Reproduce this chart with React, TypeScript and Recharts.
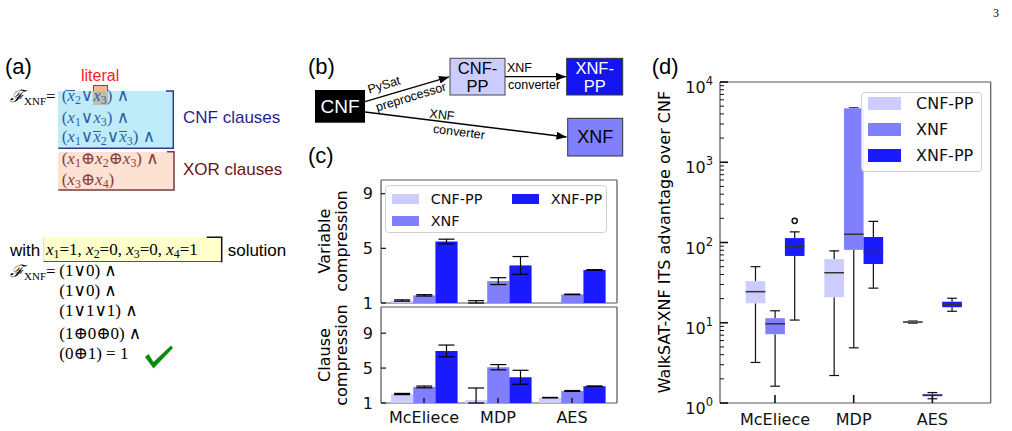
import React from 'react';
import { BarChart, Bar, XAxis, YAxis, ErrorBar, Legend, CartesianGrid } from 'recharts';

const mpl = "'DejaVu Sans', sans-serif";
const ppt = "'Liberation Sans', Arial, sans-serif";
const mathF = "'Liberation Serif', 'DejaVu Serif', serif";

// ---------------- data ----------------
const categories = ['McEliece', 'MDP', 'AES'];
const seriesNames = ['CNF-PP', 'XNF', 'XNF-PP'];
const seriesKeys = ['cnfpp', 'xnf', 'xnfpp'];
const seriesColors = ['#ccccff', '#8080ff', '#1a1aff'];

// (c) variable compression  (value, [err low, err high])
const varCnfPP = [1.18, 1.02, 1.0];
const varCnfPPErr = [[0.05, 0.05], [0.02, 0.15], [0.0, 0.01]];
const varXnf = [1.56, 2.6, 1.63];
const varXnfErr = [[0.05, 0.05], [0.25, 0.25], [0.02, 0.02]];
const varXnfPP = [5.5, 3.75, 3.42];
const varXnfPPErr = [[0.17, 0.17], [0.65, 0.65], [0.02, 0.02]];

// (c) clause compression
const clauseCnfPP = [2.03, 1.32, 1.61];
const clauseCnfPPErr = [[0.07, 0.07], [0.32, 1.4], [0.03, 0.03]];
const clauseXnf = [2.84, 5.1, 2.38];
const clauseXnfErr = [[0.1, 0.1], [0.3, 0.3], [0.05, 0.05]];
const clauseXnfPP = [6.97, 3.95, 2.92];
const clauseXnfPPErr = [[0.67, 0.67], [0.8, 0.8], [0.03, 0.03]];

const compressionTicks = [1, 5, 9];
const varDomain = [1, 10];
const clauseDomain = [1, 12];

// (d) box stats: [whisker low, q1, median, q3, whisker high]
const boxCnfPP = [[3.2, 17.5, 24.4, 33, 50], [2.2, 20.8, 42, 62, 78.7], [9.9, 10.0, 10.2, 10.4, 10.5]];
const boxXnf = [[1.62, 7.2, 9.7, 11.4, 14.1], [4.87, 81, 127, 4700, 4780], [1.13, 1.21, 1.25, 1.3, 1.35]];
const boxXnfPP = [[10.8, 68, 89, 113.5, 136], [27, 54, 77, 117, 183], [13.9, 15.6, 17, 18.3, 20.2]];
const outCnfPP = [[], [], []];
const outXnf = [[], [], []];
const outXnfPP = [[186], [], []];
const itsDomain = [1, 10000];
const itsTicks = [
  1, 2, 3, 4, 5, 6, 7, 8, 9,
  10, 20, 30, 40, 50, 60, 70, 80, 90,
  100, 200, 300, 400, 500, 600, 700, 800, 900,
  1000, 2000, 3000, 4000, 5000, 6000, 7000, 8000, 9000,
  10000,
];

const varData = categories.map((cat, i) => ({
  cat,
  cnfpp: varCnfPP[i], cnfppErr: varCnfPPErr[i],
  xnf: varXnf[i], xnfErr: varXnfErr[i],
  xnfpp: varXnfPP[i], xnfppErr: varXnfPPErr[i],
}));
const clauseData = categories.map((cat, i) => ({
  cat,
  cnfpp: clauseCnfPP[i], cnfppErr: clauseCnfPPErr[i],
  xnf: clauseXnf[i], xnfErr: clauseXnfErr[i],
  xnfpp: clauseXnfPP[i], xnfppErr: clauseXnfPPErr[i],
}));
const boxData = categories.map((cat, i) => ({
  cat,
  cnfpp: { stats: boxCnfPP[i], out: outCnfPP[i] },
  xnf: { stats: boxXnf[i], out: outXnf[i] },
  xnfpp: { stats: boxXnfPP[i], out: outXnfPP[i] },
}));

// ---------------- helpers ----------------
const frameH = ({ offset }: any) => [offset.top, offset.top + offset.height];
const frameV = ({ offset }: any) => [offset.left, offset.left + offset.width];

const CompYTick = (p: any) => {
  const ax = p.x + 8;
  return (
    <g>
      <line x1={ax} x2={ax + 5} y1={p.y} y2={p.y} stroke="#111" strokeWidth={1.2} />
      <text x={p.x} y={p.y} dy="0.36em" textAnchor="end" fontSize={16} fontFamily={mpl} fill="#111">
        {p.payload.value}
      </text>
    </g>
  );
};
const CatTickCNoLabel = (p: any) => (
  <line x1={p.x} x2={p.x} y1={p.y} y2={p.y - 5} stroke="#111" strokeWidth={1.4} />
);
const CatTickC = (p: any) => (
  <g>
    <line x1={p.x} x2={p.x} y1={p.y} y2={p.y - 5} stroke="#111" strokeWidth={1.4} />
    <text x={p.x} y={p.y + 20} textAnchor="middle" fontSize={16} fontFamily={mpl} fill="#111">
      {p.payload.value}
    </text>
  </g>
);
const CatTickD = (p: any) => (
  <g>
    <line x1={p.x} x2={p.x} y1={p.y} y2={p.y - 8} stroke="#111" strokeWidth={1.6} />
    <text x={p.x} y={p.y + 22} textAnchor="middle" fontSize={16} fontFamily={mpl} fill="#111">
      {p.payload.value}
    </text>
  </g>
);
const LogTick = (p: any) => {
  const v = p.payload.value;
  const e = Math.round(Math.log10(v));
  const major = Math.abs(Math.pow(10, e) - v) < 1e-9;
  const ax = p.x + 7;
  if (!major) return <line x1={ax} x2={ax + 4} y1={p.y} y2={p.y} stroke="#111" strokeWidth={1} />;
  return (
    <g>
      <line x1={ax} x2={ax + 8} y1={p.y} y2={p.y} stroke="#111" strokeWidth={1.6} />
      <text x={p.x} y={p.y + 11} textAnchor="end" fontSize={16} fontFamily={mpl} fill="#111">
        10<tspan dy={-8} fontSize={11.5}>{e}</tspan>
      </text>
    </g>
  );
};

const CompLegend = (props: any) => {
  const items = props.payload || [];
  const slots = [{ l: 6.7, t: 13 }, { l: 6.7, t: 35 }, { l: 126.7, t: 13 }];
  return (
    <div style={{ position: 'relative', width: 222, height: 48, boxSizing: 'border-box', border: '1px solid #d0d0d0', borderRadius: 4, background: 'rgba(255,255,255,0.85)', fontFamily: mpl, fontSize: 14.4, color: '#111' }}>
      {items.map((it: any, i: number) => (
        <div key={i} style={{ position: 'absolute', left: slots[i].l - 1, top: slots[i].t - 9, height: 18, display: 'flex', alignItems: 'center', whiteSpace: 'nowrap' }}>
          <span style={{ display: 'inline-block', width: 27, height: 10, background: it.color }} />
          <span style={{ marginLeft: 12 }}>{it.value}</span>
        </div>
      ))}
    </div>
  );
};
const BoxLegend = (props: any) => {
  const items = props.payload || [];
  return (
    <div style={{ position: 'relative', width: 121.3, height: 80, boxSizing: 'border-box', border: '1px solid #d0d0d0', borderRadius: 4, background: 'rgba(255,255,255,0.85)', fontFamily: mpl, fontSize: 16, color: '#111' }}>
      {items.map((it: any, i: number) => (
        <div key={i} style={{ position: 'absolute', left: 6.3, top: 12.3 + 26 * i - 1 - 10, height: 20, display: 'flex', alignItems: 'center', whiteSpace: 'nowrap' }}>
          <span style={{ display: 'inline-block', width: 33, height: 13, background: it.color }} />
          <span style={{ marginLeft: 14.7 }}>{it.value}</span>
        </div>
      ))}
    </div>
  );
};

function makeBoxShape(key: string, color: string) {
  return (p: any) => {
    const s = p.payload && p.payload[key];
    if (!s) return null;
    const [wlo, q1, med, q3, whi] = s.stats;
    const { x, y, width, height } = p;
    const L = Math.log10;
    const span = L(whi) - L(wlo);
    const py = (v: number) => (span === 0 ? y : y + (height * (L(whi) - L(v))) / span);
    const cx = x + width / 2;
    const ch = width / 4;
    return (
      <g>
        <line x1={cx} x2={cx} y1={py(whi)} y2={py(q3)} stroke="#111" strokeWidth={1.2} />
        <line x1={cx} x2={cx} y1={py(q1)} y2={py(wlo)} stroke="#111" strokeWidth={1.2} />
        <line x1={cx - ch} x2={cx + ch} y1={py(whi)} y2={py(whi)} stroke="#111" strokeWidth={1.2} />
        <line x1={cx - ch} x2={cx + ch} y1={py(wlo)} y2={py(wlo)} stroke="#111" strokeWidth={1.2} />
        <rect x={x} y={py(q3)} width={width} height={Math.max(py(q1) - py(q3), 0.5)} fill={color} />
        <line x1={x} x2={x + width} y1={py(med)} y2={py(med)} stroke="#333" strokeWidth={1.5} />
        {s.out.map((o: number, i: number) => (
          <circle key={i} cx={cx} cy={py(o)} r={2.6} fill="none" stroke="#111" strokeWidth={1.5} />
        ))}
      </g>
    );
  };
}

function CompressionChart({ data, domain, top, height, marginTop, marginBottom, withLabels, withLegend }: any) {
  return (
    <div style={{ position: 'absolute', left: 300, top }}>
      <BarChart width={330} height={height} data={data} barGap={0}
        margin={{ top: marginTop, right: 13, bottom: marginBottom, left: 41 }}>
        <CartesianGrid stroke="#555" strokeWidth={1.2} horizontalCoordinatesGenerator={frameH} verticalCoordinatesGenerator={frameV} />
        <XAxis dataKey="cat" type="category" padding={{ left: 6, right: 8 }} height={withLabels ? 28 : 0}
          tickSize={0} tickMargin={0} tickLine={false} axisLine={false} interval={0}
          tick={withLabels ? <CatTickC /> : <CatTickCNoLabel />} />
        <YAxis type="number" domain={domain} ticks={compressionTicks} interval={0} width={40}
          tickSize={0} tickMargin={8} tickLine={false} axisLine={false} tick={<CompYTick />} allowDataOverflow />
        {seriesKeys.map((k, i) => (
          <Bar key={k} dataKey={k} name={seriesNames[i]} fill={seriesColors[i]} barSize={22.2} isAnimationActive={false}>
            <ErrorBar dataKey={k + 'Err'} width={8} stroke="#000" strokeWidth={1.2} isAnimationActive={false} />
          </Bar>
        ))}
        {withLegend && (
          <Legend layout="vertical" align="center" verticalAlign="middle" content={<CompLegend />}
            wrapperStyle={{ left: 85, top: 15, width: 222, height: 48 }} />
        )}
      </BarChart>
    </div>
  );
}

function BoxChart() {
  return (
    <div style={{ position: 'absolute', left: 640, top: 70 }}>
      <BarChart width={372} height={361} data={boxData} barGap={0}
        margin={{ top: 12, right: 21.3, bottom: 0, left: 30 }}>
        <CartesianGrid stroke="#555" strokeWidth={1.2} horizontalCoordinatesGenerator={frameH} verticalCoordinatesGenerator={frameV} />
        <XAxis dataKey="cat" type="category" padding={{ left: 15.7, right: 19 }} height={28}
          tickSize={0} tickMargin={0} tickLine={false} axisLine={false} interval={0} tick={<CatTickD />} />
        <YAxis type="number" scale="log" domain={itsDomain} ticks={itsTicks} interval={0} width={50}
          tickSize={0} tickMargin={7} tickLine={false} axisLine={false} tick={<LogTick />} allowDataOverflow />
        {seriesKeys.map((k, i) => (
          <Bar key={k} dataKey={(d: any) => [d[k].stats[0], d[k].stats[4]]} name={seriesNames[i]}
            fill={seriesColors[i]} barSize={19.6} shape={makeBoxShape(k, seriesColors[i])} isAnimationActive={false} />
        ))}
        <Legend layout="vertical" align="center" verticalAlign="middle" content={<BoxLegend />}
          wrapperStyle={{ left: 221, top: 21.7, width: 121.3, height: 80 }} />
      </BarChart>
    </div>
  );
}

// ---------------- panel (a) text helpers ----------------
const Txt = ({ x, base, size, color = '#000', font = ppt, children }: any) => (
  <div style={{ position: 'absolute', left: x, top: base - 0.915 * size, fontSize: size, lineHeight: `${1.15 * size}px`, height: 1.15 * size, color, fontFamily: font, whiteSpace: 'nowrap' }}>
    {children}
  </div>
);
const V = ({ n, bar }: any) => (
  <span>
    {bar ? (
      <span style={{ display: 'inline-block', fontStyle: 'italic', borderTop: '1px solid currentColor', lineHeight: '0.58em' }}>x</span>
    ) : (
      <span style={{ fontStyle: 'italic' }}>x</span>
    )}
    <span style={{ fontSize: '0.7em', position: 'relative', top: '0.22em' }}>{n}</span>
  </span>
);
const FX = () => (
  <span>
    <span style={{ fontStyle: 'italic' }}>ℱ</span>
    <span style={{ fontSize: 11, position: 'relative', top: 3 }}>XNF</span>=
  </span>
);
const Box = ({ l, t, w, h, bg, style }: any) => (
  <div style={{ position: 'absolute', left: l, top: t, width: w, height: h, background: bg, ...style }} />
);

function PanelA() {
  const blue = '#2f5ea8';
  const brown = '#8b3b3b';
  const ms = 17;
  return (
    <>
      <Box l={58.3} t={90.7} w={115} h={57.6} bg="#c0ecfa" />
      <Box l={58.3} t={151.7} w={115.7} h={38.3} bg="#fde2d4" />
      <Box l={93.3} t={85} w={15} h={5.7} bg="#f5b895" style={{ border: '1px solid #e02020', borderBottom: 'none', boxSizing: 'border-box' }} />
      <Box l={93.3} t={90.7} w={15} h={14.3} bg="#bcbfae" />
      <Box l={43.3} t={237.3} w={178.4} h={25} bg="#ffffcc" style={{ borderLeft: '1px solid #ddd', borderBottom: '1.5px solid #555', boxSizing: 'border-box' }} />
      <Txt x={5} base={74} size={22}>(a)</Txt>
      <Txt x={81} base={81.7} size={16} color="#ff1a1a">literal</Txt>
      <Txt x={10} base={103} size={ms} font={mathF}><FX /></Txt>
      <Txt x={61.7} base={102} size={ms} font={mathF} color={blue}>(<V n="2" bar />∨<V n="3" />) ∧</Txt>
      <Txt x={61.7} base={124} size={ms} font={mathF} color={blue}>(<V n="1" />∨<V n="3" />) ∧</Txt>
      <Txt x={61.7} base={143} size={ms} font={mathF} color={blue}>(<V n="1" />∨<V n="2" bar />∨<V n="3" bar />) ∧</Txt>
      <Txt x={61.7} base={165} size={ms} font={mathF} color={brown}>(<V n="1" />⊕<V n="2" />⊕<V n="3" />) ∧</Txt>
      <Txt x={61.7} base={186} size={ms} font={mathF} color={brown}>(<V n="3" />⊕<V n="4" />)</Txt>
      <Txt x={183} base={124} size={17} color="#1f1f8f">CNF clauses</Txt>
      <Txt x={183} base={176} size={17} color="#6b1414">XOR clauses</Txt>
      <Txt x={10} base={256.7} size={17}>with</Txt>
      <Txt x={46} base={256} size={ms} font={mathF}><V n="1" />=1, <V n="2" />=0, <V n="3" />=0, <V n="4" />=1</Txt>
      <Txt x={227.7} base={256.7} size={17}>solution</Txt>
      <Txt x={10} base={277.5} size={ms} font={mathF}><FX /></Txt>
      <Txt x={59.3} base={277} size={ms} font={mathF}>(1∨0) ∧</Txt>
      <Txt x={59.3} base={297} size={ms} font={mathF}>(1∨0) ∧</Txt>
      <Txt x={59.3} base={317} size={ms} font={mathF}>(1∨1∨1) ∧</Txt>
      <Txt x={59.3} base={339.5} size={ms} font={mathF}>(1⊕0⊕0) ∧</Txt>
      <Txt x={59.3} base={360} size={ms} font={mathF}>(0⊕1) = 1</Txt>
    </>
  );
}

function Overlay() {
  const lab = { fontFamily: ppt, fontSize: 12.5, fill: '#000' } as any;
  const boxTxt = { fontFamily: ppt, fontSize: 16.5, textAnchor: 'middle', dominantBaseline: 'central' } as any;
  return (
    <svg width={1012} height={431} style={{ position: 'absolute', left: 0, top: 0, pointerEvents: 'none' }}>
      <defs>
        <marker id="ah" markerUnits="userSpaceOnUse" markerWidth={10} markerHeight={8} viewBox="0 0 10 8" refX={10} refY={4} orient="auto">
          <path d="M0,0 L10,4 L0,8 z" fill="#000" />
        </marker>
      </defs>
      {/* (a) brackets */}
      <polyline points="166,91 173.3,91 173.3,148.3 58.3,148.3" fill="none" stroke="#2e3a87" strokeWidth={1.5} />
      <polyline points="167,151.7 174,151.7 174,190 58.3,190" fill="none" stroke="#7a3b3b" strokeWidth={1.5} />
      <polyline points="206.7,237.3 221.7,237.3 221.7,262.3" fill="none" stroke="#111" strokeWidth={1.5} />
      {/* check mark */}
      <polygon points="145,357 148.5,354 153.5,362 171,345.5 173,348 153.5,368.5" fill="#0d8a0d" />
      {/* (b) */}
      <text x={308} y={74} fontFamily={ppt} fontSize={22}>(b)</text>
      <rect x={315} y={90} width={50} height={32.7} fill="#000" />
      <text x={340} y={106.5} {...boxTxt} fontSize={19} fill="#fff">CNF</text>
      <rect x={450} y={58.3} width={55} height={36.7} fill="#ccccff" stroke="#444" strokeWidth={1} />
      <text x={477.5} y={67.5} {...boxTxt} fill="#000">CNF-</text>
      <text x={477.5} y={86} {...boxTxt} fill="#000">PP</text>
      <rect x={566.7} y={58.3} width={56} height={36.7} fill="#1414f0" stroke="#333" strokeWidth={1} />
      <text x={594.7} y={67.5} {...boxTxt} fill="#fff">XNF-</text>
      <text x={594.7} y={86} {...boxTxt} fill="#fff">PP</text>
      <rect x={567.7} y={118.3} width={55} height={37.7} fill="#8080ff" stroke="#333" strokeWidth={1} />
      <text x={595.2} y={137.2} {...boxTxt} fontSize={18} fill="#000">XNF</text>
      <line x1={365} y1={101.7} x2={449} y2={76.9} stroke="#000" strokeWidth={1.3} markerEnd="url(#ah)" />
      <line x1={505} y1={76.7} x2={566} y2={76.7} stroke="#000" strokeWidth={1.3} markerEnd="url(#ah)" />
      <line x1={365} y1={112} x2={566.5} y2={137} stroke="#000" strokeWidth={1.3} markerEnd="url(#ah)" />
      <text x={384} y={85} {...lab} textAnchor="middle" dominantBaseline="central" transform="rotate(-17 384 85)">PySat</text>
      <text x={411} y={97} {...lab} textAnchor="middle" dominantBaseline="central" transform="rotate(-17 411 97)">preprocessor</text>
      <text x={507} y={68} {...lab} dominantBaseline="central">XNF</text>
      <text x={508} y={85} {...lab} dominantBaseline="central">converter</text>
      <text x={442} y={115} {...lab} textAnchor="middle" dominantBaseline="central" transform="rotate(7 442 115)">XNF</text>
      <text x={459} y={132} {...lab} textAnchor="middle" dominantBaseline="central" transform="rotate(7 459 132)">converter</text>
      <text x={308} y={163} fontFamily={ppt} fontSize={22}>(c)</text>
      <text x={651.7} y={74} fontFamily={ppt} fontSize={22}>(d)</text>
      {/* axis labels */}
      <text x={330} y={241} fontFamily={mpl} fontSize={16} textAnchor="middle" transform="rotate(-90 330 241)">Variable</text>
      <text x={347} y={241} fontFamily={mpl} fontSize={16} textAnchor="middle" transform="rotate(-90 347 241)">compression</text>
      <text x={330} y={355} fontFamily={mpl} fontSize={16} textAnchor="middle" transform="rotate(-90 330 355)">Clause</text>
      <text x={347} y={355} fontFamily={mpl} fontSize={16} textAnchor="middle" transform="rotate(-90 347 355)">compression</text>
      <text x={670} y={242} fontFamily={mpl} fontSize={16} textAnchor="middle" transform="rotate(-90 670 242)">WalkSAT-XNF ITS advantage over CNF</text>
      <text x={993} y={17} fontFamily={mathF} fontSize={12}>3</text>
    </svg>
  );
}

export default function App() {
  return (
    <div style={{ position: 'absolute', left: 0, top: 0, width: 1012, height: 431, background: '#fff', overflow: 'hidden' }}>
      <PanelA />
      <CompressionChart data={varData} domain={varDomain} top={170} height={146} marginTop={10} marginBottom={13} withLabels={false} withLegend />
      <CompressionChart data={clauseData} domain={clauseDomain} top={300} height={131} marginTop={7} marginBottom={0} withLabels withLegend={false} />
      <BoxChart />
      <Overlay />
    </div>
  );
}
